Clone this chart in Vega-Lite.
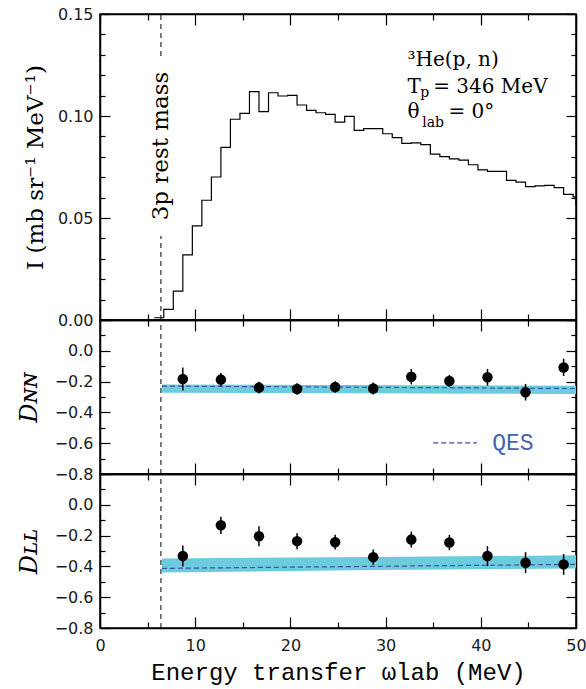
{
  "$schema": "https://vega.github.io/schema/vega-lite/v6.json",
  "padding": {"left": 16, "top": 5, "right": 5, "bottom": 2},
  "spacing": 0,
  "bounds": "flush",
  "background": "white",
  "config": {
    "view": {"stroke": "black", "strokeWidth": 1.5},
    "axis": {"domainColor": "black", "domainWidth": 1.5, "tickColor": "black", "tickWidth": 1.2, "grid": false,
             "labelFont": "DejaVu Sans", "labelFontSize": 16, "labelColor": "#1a1a1a",
             "titleFontWeight": "normal", "titleColor": "black"}
  },
  "vconcat": [
    {
      "width": 476, "height": 306,
      "resolve": {"axis": {"x": "independent", "y": "independent"}},
      "layer": [
        {
          "data": {"values": [
            {"w": 5.7, "I": 0.0011}, {"w": 6.7, "I": 0.0052}, {"w": 7.7, "I": 0.0142}, {"w": 8.7, "I": 0.0319},
            {"w": 9.7, "I": 0.0461}, {"w": 10.7, "I": 0.0587}, {"w": 11.7, "I": 0.0701}, {"w": 12.7, "I": 0.0846},
            {"w": 13.7, "I": 0.0984}, {"w": 14.7, "I": 0.1013}, {"w": 15.7, "I": 0.1119}, {"w": 16.7, "I": 0.1021},
            {"w": 17.7, "I": 0.1114}, {"w": 18.7, "I": 0.1098}, {"w": 19.7, "I": 0.1101}, {"w": 20.7, "I": 0.1054},
            {"w": 21.7, "I": 0.1028}, {"w": 22.7, "I": 0.1016}, {"w": 23.7, "I": 0.1008}, {"w": 24.7, "I": 0.097},
            {"w": 25.7, "I": 0.0998}, {"w": 26.7, "I": 0.093}, {"w": 27.7, "I": 0.0938}, {"w": 28.7, "I": 0.0938},
            {"w": 29.7, "I": 0.0913}, {"w": 30.7, "I": 0.0894}, {"w": 31.7, "I": 0.0866}, {"w": 32.7, "I": 0.0868},
            {"w": 33.7, "I": 0.086}, {"w": 34.7, "I": 0.0813}, {"w": 35.7, "I": 0.0801}, {"w": 36.7, "I": 0.079},
            {"w": 37.7, "I": 0.0784}, {"w": 38.7, "I": 0.0761}, {"w": 39.7, "I": 0.0736}, {"w": 40.7, "I": 0.0729},
            {"w": 41.7, "I": 0.0729}, {"w": 42.7, "I": 0.0684}, {"w": 43.7, "I": 0.0676}, {"w": 44.7, "I": 0.0654},
            {"w": 45.7, "I": 0.0657}, {"w": 46.7, "I": 0.066}, {"w": 47.7, "I": 0.0649}, {"w": 48.7, "I": 0.0616},
            {"w": 49.7, "I": 0.0604}, {"w": 50, "I": 0.0559}
          ]},
          "mark": {"type": "line", "interpolate": "step-after", "color": "black", "strokeWidth": 1.2},
          "encoding": {
            "x": {"field": "w", "type": "quantitative", "scale": {"domain": [0, 50], "nice": false, "zero": false},
                  "axis": {"orient": "bottom", "values": [0,5,10,15,20,25,30,35,40,45,50], "labels": false, "title": null,
                           "tickSize": {"condition": {"test": "datum.value % 10 === 0", "value": -11}, "value": -6}}},
            "y": {"field": "I", "type": "quantitative", "scale": {"domain": [0, 0.15], "nice": false},
                  "axis": {"orient": "left", "values": [0,0.01,0.02,0.03,0.04,0.05,0.06,0.07,0.08,0.09,0.1,0.11,0.12,0.13,0.14,0.15],
                           "labelExpr": "round(datum.value*100) % 5 === 0 ? format(datum.value, '.2f') : ''",
                           "labelPadding": 17,
                           "tickSize": {"condition": {"test": "round(datum.value*100) % 5 === 0", "value": -10}, "value": -5},
                           "title": "I  (mb  sr⁻¹  MeV⁻¹)", "titleFont": "DejaVu Serif", "titleFontSize": 23, "titlePadding": 10}}
          }
        },
        {
          "data": {"values": [{"w": 6.4, "lo": 0, "hi": 0.0412}, {"w": 6.4, "lo": 0.1294, "hi": 0.15}]},
          "mark": {"type": "rule", "color": "black", "strokeDash": [5, 4], "strokeWidth": 1},
          "encoding": {
            "x": {"field": "w", "type": "quantitative", "scale": {"domain": [0, 50], "nice": false, "zero": false},
                  "axis": {"orient": "top", "values": [0,5,10,15,20,25,30,35,40,45,50], "labels": false, "title": null,
                           "tickSize": {"condition": {"test": "datum.value % 10 === 0", "value": -11}, "value": -6}}},
            "y": {"field": "lo", "type": "quantitative", "scale": {"domain": [0, 0.15], "nice": false},
                  "axis": {"orient": "right", "values": [0,0.01,0.02,0.03,0.04,0.05,0.06,0.07,0.08,0.09,0.1,0.11,0.12,0.13,0.14,0.15],
                           "labels": false, "title": null,
                           "tickSize": {"condition": {"test": "round(datum.value*100) % 5 === 0", "value": -10}, "value": -5}}},
            "y2": {"field": "hi"}
          }
        },
        {
          "data": {"values": [{"w": 6.4, "I": 0.0853, "t": "3p  rest  mass"}]},
          "mark": {"type": "text", "angle": 270, "align": "center", "baseline": "middle", "font": "DejaVu Serif", "fontSize": 23, "color": "black"},
          "encoding": {
            "x": {"field": "w", "type": "quantitative", "axis": null},
            "y": {"field": "I", "type": "quantitative", "axis": null},
            "text": {"field": "t"}
          }
        },
        {
          "data": {"values": [
            {"w": 32.3, "I": 0.1245, "t": "³He(p, n)"},
            {"w": 32.3, "I": 0.1114, "t": "T"},
            {"w": 35.0, "I": 0.1114, "t": "= 346 MeV"},
            {"w": 32.3, "I": 0.0989, "t": "θ"},
            {"w": 36.6, "I": 0.0989, "t": "= 0°"}
          ]},
          "mark": {"type": "text", "align": "left", "baseline": "alphabetic", "font": "DejaVu Serif", "fontSize": 20, "color": "black"},
          "encoding": {
            "x": {"field": "w", "type": "quantitative", "axis": null},
            "y": {"field": "I", "type": "quantitative", "axis": null},
            "text": {"field": "t"}
          }
        },
        {
          "data": {"values": [
            {"w": 33.65, "I": 0.1095, "t": "p"},
            {"w": 33.84, "I": 0.0945, "t": "lab"}
          ]},
          "mark": {"type": "text", "align": "left", "baseline": "alphabetic", "font": "DejaVu Serif", "fontSize": 14, "color": "black"},
          "encoding": {
            "x": {"field": "w", "type": "quantitative", "axis": null},
            "y": {"field": "I", "type": "quantitative", "axis": null},
            "text": {"field": "t"}
          }
        }
      ]
    },
    {
      "width": 476, "height": 154,
      "resolve": {"axis": {"x": "independent", "y": "independent"}},
      "layer": [
        {
          "data": {"values": [{"w": 6.5, "lo": -0.273, "hi": -0.219}, {"w": 50, "lo": -0.28, "hi": -0.227}]},
          "mark": {"type": "area", "color": "#6ccbdc", "opacity": 1},
          "encoding": {
            "x": {"field": "w", "type": "quantitative", "scale": {"domain": [0, 50], "nice": false, "zero": false},
                  "axis": {"orient": "bottom", "values": [0,5,10,15,20,25,30,35,40,45,50], "labels": false, "title": null,
                           "tickSize": {"condition": {"test": "datum.value % 10 === 0", "value": -11}, "value": -6}}},
            "y": {"field": "lo", "type": "quantitative", "scale": {"domain": [-0.8, 0.2], "nice": false, "zero": false},
                  "axis": {"orient": "left", "values": [-0.8,-0.7,-0.6,-0.5,-0.4,-0.3,-0.2,-0.1,0,0.1,0.2],
                           "labelExpr": "round(datum.value*10) % 2 === 0 && datum.value < 0.1 ? format(datum.value, '.1f') : ''",
                           "labelPadding": 17,
                           "tickSize": {"condition": {"test": "round(datum.value*10) % 2 === 0", "value": -10}, "value": -5},
                           "title": "Dɴɴ", "titleFont": "DejaVu Serif", "titleFontSize": 24, "titleFontStyle": "italic", "titlePadding": 13}},
            "y2": {"field": "hi"}
          }
        },
        {
          "data": {"values": [{"w": 6.5, "q": -0.229}, {"w": 50, "q": -0.245}]},
          "mark": {"type": "line", "color": "#3d4fa8", "strokeDash": [5, 3], "strokeWidth": 1.2},
          "encoding": {
            "x": {"field": "w", "type": "quantitative", "axis": null},
            "y": {"field": "q", "type": "quantitative", "axis": null}
          }
        },
        {
          "data": {"values": [{"w": 6.4, "lo": -0.8, "hi": 0.2}]},
          "mark": {"type": "rule", "color": "black", "strokeDash": [5, 4], "strokeWidth": 1},
          "encoding": {
            "x": {"field": "w", "type": "quantitative", "scale": {"domain": [0, 50], "nice": false, "zero": false},
                  "axis": {"orient": "top", "values": [0,5,10,15,20,25,30,35,40,45,50], "labels": false, "title": null,
                           "tickSize": {"condition": {"test": "datum.value % 10 === 0", "value": -11}, "value": -6}}},
            "y": {"field": "lo", "type": "quantitative", "scale": {"domain": [-0.8, 0.2], "nice": false, "zero": false},
                  "axis": {"orient": "right", "values": [-0.8,-0.7,-0.6,-0.5,-0.4,-0.3,-0.2,-0.1,0,0.1,0.2],
                           "labels": false, "title": null,
                           "tickSize": {"condition": {"test": "round(datum.value*10) % 2 === 0", "value": -10}, "value": -5}}},
            "y2": {"field": "hi"}
          }
        },
        {
          "data": {"values": [
            {"w": 8.7, "d": -0.183, "lo": -0.258, "hi": -0.108},
            {"w": 12.7, "d": -0.187, "lo": -0.23, "hi": -0.144},
            {"w": 16.7, "d": -0.239, "lo": -0.277, "hi": -0.201},
            {"w": 20.7, "d": -0.248, "lo": -0.286, "hi": -0.21},
            {"w": 24.7, "d": -0.235, "lo": -0.272, "hi": -0.198},
            {"w": 28.7, "d": -0.245, "lo": -0.284, "hi": -0.206},
            {"w": 32.7, "d": -0.168, "lo": -0.218, "hi": -0.118},
            {"w": 36.7, "d": -0.196, "lo": -0.235, "hi": -0.157},
            {"w": 40.7, "d": -0.172, "lo": -0.226, "hi": -0.118},
            {"w": 44.7, "d": -0.269, "lo": -0.323, "hi": -0.215},
            {"w": 48.7, "d": -0.108, "lo": -0.164, "hi": -0.052}
          ]},
          "layer": [
            {
              "mark": {"type": "rule", "color": "black", "strokeWidth": 1.5},
              "encoding": {
                "x": {"field": "w", "type": "quantitative", "axis": null},
                "y": {"field": "lo", "type": "quantitative", "axis": null},
                "y2": {"field": "hi"}
              }
            },
            {
              "mark": {"type": "circle", "color": "black", "opacity": 1, "size": 110},
              "encoding": {
                "x": {"field": "w", "type": "quantitative", "axis": null},
                "y": {"field": "d", "type": "quantitative", "axis": null}
              }
            }
          ]
        },
        {
          "data": {"values": [{"w": 35.0, "q": -0.598}, {"w": 39.6, "q": -0.598}]},
          "mark": {"type": "line", "color": "#3d4fa8", "strokeDash": [5, 3], "strokeWidth": 1.2},
          "encoding": {
            "x": {"field": "w", "type": "quantitative", "axis": null},
            "y": {"field": "q", "type": "quantitative", "axis": null}
          }
        },
        {
          "data": {"values": [{"w": 41.2, "q": -0.598, "t": "QES"}]},
          "mark": {"type": "text", "align": "left", "baseline": "middle", "font": "Liberation Mono", "fontSize": 23, "color": "#4a60b2"},
          "encoding": {
            "x": {"field": "w", "type": "quantitative", "axis": null},
            "y": {"field": "q", "type": "quantitative", "axis": null},
            "text": {"field": "t"}
          }
        }
      ]
    },
    {
      "width": 476, "height": 154,
      "resolve": {"axis": {"x": "independent", "y": "independent"}},
      "layer": [
        {
          "data": {"values": [{"w": 6.5, "lo": -0.44, "hi": -0.348}, {"w": 28.7, "lo": -0.424, "hi": -0.339}, {"w": 50, "lo": -0.414, "hi": -0.328}]},
          "mark": {"type": "area", "color": "#6ccbdc", "opacity": 1},
          "encoding": {
            "x": {"field": "w", "type": "quantitative", "scale": {"domain": [0, 50], "nice": false, "zero": false},
                  "axis": {"orient": "bottom", "values": [0,5,10,15,20,25,30,35,40,45,50],
                           "labelExpr": "datum.value % 10 === 0 ? datum.label : ''", "labelPadding": 20,
                           "tickSize": {"condition": {"test": "datum.value % 10 === 0", "value": -11}, "value": -6}, "labelFlush": false,
                           "title": "Energy transfer ωlab (MeV)", "titleFont": "Liberation Mono", "titleFontSize": 24, "titlePadding": 7}},
            "y": {"field": "lo", "type": "quantitative", "scale": {"domain": [-0.8, 0.2], "nice": false, "zero": false},
                  "axis": {"orient": "left", "values": [-0.8,-0.7,-0.6,-0.5,-0.4,-0.3,-0.2,-0.1,0,0.1,0.2],
                           "labelExpr": "round(datum.value*10) % 2 === 0 && datum.value < 0.1 ? format(datum.value, '.1f') : ''",
                           "labelPadding": 17,
                           "tickSize": {"condition": {"test": "round(datum.value*10) % 2 === 0", "value": -10}, "value": -5},
                           "title": "Dʟʟ", "titleFont": "DejaVu Serif", "titleFontSize": 24, "titleFontStyle": "italic", "titlePadding": 13}},
            "y2": {"field": "hi"}
          }
        },
        {
          "data": {"values": [{"w": 6.5, "q": -0.413}, {"w": 50, "q": -0.387}]},
          "mark": {"type": "line", "color": "#3d4fa8", "strokeDash": [5, 3], "strokeWidth": 1.2},
          "encoding": {
            "x": {"field": "w", "type": "quantitative", "axis": null},
            "y": {"field": "q", "type": "quantitative", "axis": null}
          }
        },
        {
          "data": {"values": [{"w": 6.4, "lo": -0.8, "hi": 0.2}]},
          "mark": {"type": "rule", "color": "black", "strokeDash": [5, 4], "strokeWidth": 1},
          "encoding": {
            "x": {"field": "w", "type": "quantitative", "scale": {"domain": [0, 50], "nice": false, "zero": false},
                  "axis": {"orient": "top", "values": [0,5,10,15,20,25,30,35,40,45,50], "labels": false, "title": null,
                           "tickSize": {"condition": {"test": "datum.value % 10 === 0", "value": -11}, "value": -6}}},
            "y": {"field": "lo", "type": "quantitative", "scale": {"domain": [-0.8, 0.2], "nice": false, "zero": false},
                  "axis": {"orient": "right", "values": [-0.8,-0.7,-0.6,-0.5,-0.4,-0.3,-0.2,-0.1,0,0.1,0.2],
                           "labels": false, "title": null,
                           "tickSize": {"condition": {"test": "round(datum.value*10) % 2 === 0", "value": -10}, "value": -5}}},
            "y2": {"field": "hi"}
          }
        },
        {
          "data": {"values": [
            {"w": 8.7, "d": -0.333, "lo": -0.401, "hi": -0.265},
            {"w": 12.7, "d": -0.133, "lo": -0.189, "hi": -0.077},
            {"w": 16.7, "d": -0.204, "lo": -0.269, "hi": -0.139},
            {"w": 20.7, "d": -0.236, "lo": -0.288, "hi": -0.184},
            {"w": 24.7, "d": -0.243, "lo": -0.291, "hi": -0.195},
            {"w": 28.7, "d": -0.34, "lo": -0.389, "hi": -0.291},
            {"w": 32.7, "d": -0.226, "lo": -0.278, "hi": -0.174},
            {"w": 36.7, "d": -0.245, "lo": -0.295, "hi": -0.195},
            {"w": 40.7, "d": -0.333, "lo": -0.398, "hi": -0.268},
            {"w": 44.7, "d": -0.376, "lo": -0.444, "hi": -0.308},
            {"w": 48.7, "d": -0.387, "lo": -0.454, "hi": -0.32}
          ]},
          "layer": [
            {
              "mark": {"type": "rule", "color": "black", "strokeWidth": 1.5},
              "encoding": {
                "x": {"field": "w", "type": "quantitative", "axis": null},
                "y": {"field": "lo", "type": "quantitative", "axis": null},
                "y2": {"field": "hi"}
              }
            },
            {
              "mark": {"type": "circle", "color": "black", "opacity": 1, "size": 110},
              "encoding": {
                "x": {"field": "w", "type": "quantitative", "axis": null},
                "y": {"field": "d", "type": "quantitative", "axis": null}
              }
            }
          ]
        }
      ]
    }
  ]
}
